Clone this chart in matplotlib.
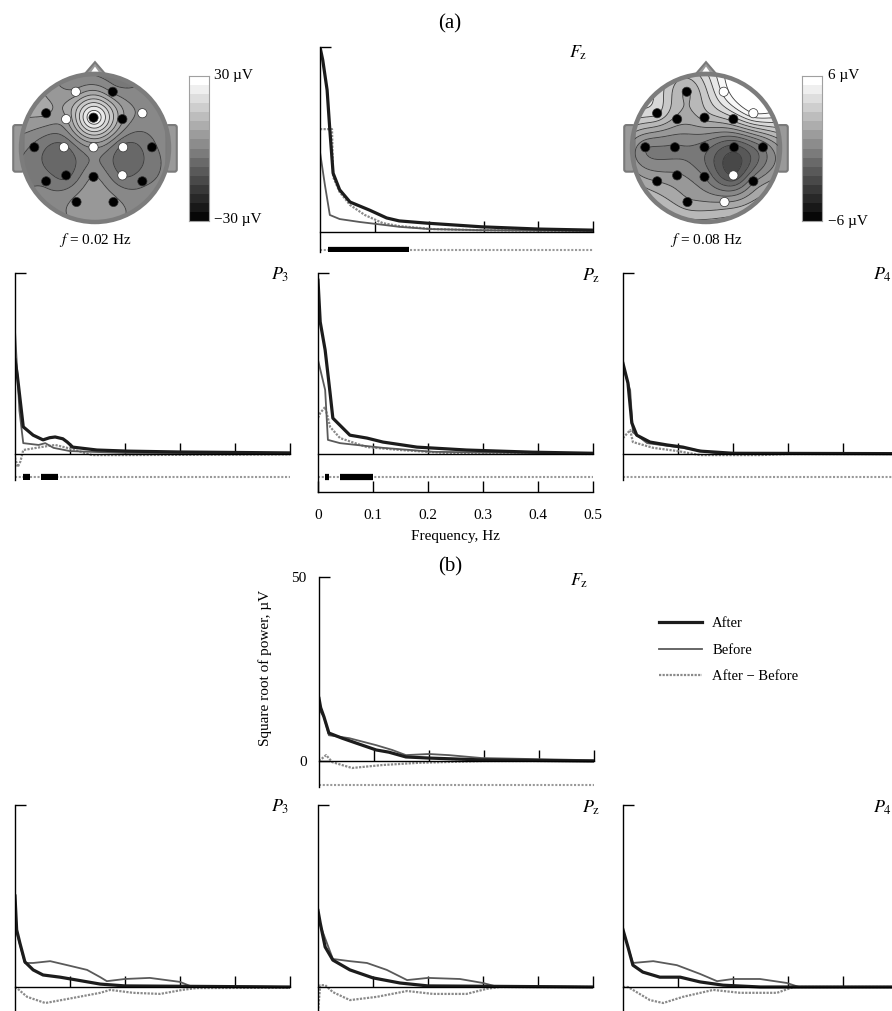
import numpy as np
import matplotlib
matplotlib.use("Agg")
import matplotlib.pyplot as plt
from matplotlib.patches import Circle, Polygon, FancyBboxPatch

plt.rcParams['font.family'] = ['Liberation Serif', 'DejaVu Serif']
plt.rcParams['mathtext.fontset'] = 'stix'

W, H = 892, 1011

# ---------------- spectra (Hz, uV) ----------------
# (a) Fz
aFz_after_f = [0, 0.005, 0.013, 0.018, 0.024, 0.036, 0.055, 0.091, 0.122, 0.145, 0.195, 0.296, 0.4, 0.5]
aFz_after_v = [50, 46.5, 38.4, 27.6, 15.9, 11.4, 8.1, 5.9, 3.8, 3.0, 2.4, 1.4, 0.8, 0.5]
aFz_before_f = [0, 0.009, 0.018, 0.036, 0.073, 0.118, 0.145, 0.2, 0.29, 0.5]
aFz_before_v = [21.6, 12.7, 4.6, 3.5, 2.7, 1.9, 1.4, 0.8, 0.5, 0.3]
aFz_diff_f = [0, 0.022, 0.024, 0.036, 0.055, 0.082, 0.115, 0.145, 0.205, 0.29, 0.5]
aFz_diff_v = [27.8, 27.8, 14.9, 10.8, 7.3, 4.6, 2.4, 1.6, 0.8, 0.5, 0.2]
aFz_bars = [(0.015, 0.163)]

# (a) P3
aP3_after_f = [0, 0.004, 0.015, 0.033, 0.051, 0.063, 0.073, 0.087, 0.095, 0.105, 0.149, 0.204, 0.3, 0.5]
aP3_after_v = [26, 22, 7.5, 5.2, 3.9, 4.5, 4.7, 4.2, 3.3, 1.9, 1.1, 0.8, 0.55, 0.3]
aP3_before_f = [0, 0.008, 0.015, 0.043, 0.055, 0.07, 0.1, 0.2, 0.5]
aP3_before_v = [34, 12, 3.0, 2.5, 3.0, 1.7, 0.8, 0.3, 0.2]
aP3_diff_f = [0, 0.005, 0.01, 0.015, 0.051, 0.073, 0.1, 0.14, 0.2, 0.5]
aP3_diff_v = [-1, -3.6, -2, 1.1, 2.0, 2.5, 1.5, -0.3, -0.3, -0.1]
aP3_bars = [(0.015, 0.027), (0.047, 0.078)]

# (a) Pz
aPz_after_f = [0, 0.004, 0.013, 0.022, 0.027, 0.058, 0.089, 0.118, 0.18, 0.27, 0.39, 0.5]
aPz_after_v = [48, 36.5, 28.7, 16.8, 9.9, 5.2, 4.4, 3.3, 1.9, 1.1, 0.5, 0.2]
aPz_before_f = [0, 0.013, 0.018, 0.04, 0.118, 0.21, 0.5]
aPz_before_v = [26, 17.7, 3.9, 3.0, 1.7, 0.6, 0.1]
aPz_diff_f = [0, 0.004, 0.013, 0.022, 0.04, 0.089, 0.149, 0.24, 0.5]
aPz_diff_v = [10, 11.3, 13, 7.5, 4.4, 1.9, 1.1, 0.2, 0]
aPz_bars = [(0.013, 0.02), (0.04, 0.1)]

# (a) P4
aP4_after_f = [0, 0.009, 0.016, 0.025, 0.049, 0.08, 0.109, 0.14, 0.2, 0.5]
aP4_after_v = [25, 19.6, 8.6, 5.2, 3.3, 2.5, 1.9, 0.8, 0.2, 0.1]
aP4_before_f = [0, 0.013, 0.018, 0.044, 0.109, 0.17, 0.5]
aP4_before_v = [24, 17.7, 6, 3, 1.7, 0.2, 0]
aP4_diff_f = [0, 0.013, 0.018, 0.055, 0.1, 0.14, 0.25, 0.3, 0.5]
aP4_diff_v = [4.4, 6.6, 3.3, 1.7, 0.8, -0.3, -0.3, 0, 0]
aP4_bars = []

# (b) Fz
bFz_after_f = [0, 0.003, 0.009, 0.018, 0.042, 0.067, 0.104, 0.127, 0.158, 0.2, 0.296, 0.5]
bFz_after_v = [17, 14.5, 12, 7.6, 6.2, 4.9, 3, 2.4, 1.1, 0.8, 0.3, 0]
bFz_before_f = [0, 0.009, 0.018, 0.055, 0.104, 0.133, 0.158, 0.2, 0.236, 0.296, 0.5]
bFz_before_v = [14, 12, 7, 6.2, 4.3, 3, 1.6, 1.9, 1.6, 0.8, 0.2]
bFz_diff_f = [0, 0.013, 0.024, 0.06, 0.115, 0.18, 0.3, 0.5]
bFz_diff_v = [0, 1.6, -0.3, -1.9, -1.1, -0.5, 0, 0]
bFz_bars = []

# (b) P3
bP3_after_f = [0, 0.003, 0.009, 0.018, 0.033, 0.051, 0.082, 0.113, 0.155, 0.2, 0.5]
bP3_after_v = [25, 15.7, 12, 6.9, 4.7, 3.3, 2.7, 1.9, 0.8, 0.3, 0]
bP3_before_f = [0, 0.003, 0.018, 0.033, 0.064, 0.095, 0.131, 0.155, 0.167, 0.2, 0.245, 0.3, 0.318, 0.5]
bP3_before_v = [25, 15, 6.6, 6.6, 7.1, 6, 4.7, 2.7, 1.6, 2.2, 2.5, 1.4, 0.3, 0]
bP3_diff_f = [0, 0.005, 0.022, 0.055, 0.095, 0.155, 0.173, 0.215, 0.264, 0.304, 0.33, 0.5]
bP3_diff_v = [0, -0.5, -2.7, -4.4, -3.3, -1.6, -0.8, -1.6, -1.9, -0.8, -0.3, -0.2]

# (b) Pz
bPz_after_f = [0, 0.004, 0.013, 0.027, 0.058, 0.1, 0.149, 0.2, 0.5]
bPz_after_v = [21, 17.6, 11, 7.4, 4.7, 2.5, 1.1, 0.3, 0]
bPz_before_f = [0, 0.004, 0.027, 0.058, 0.089, 0.125, 0.162, 0.2, 0.258, 0.3, 0.32, 0.5]
bPz_before_v = [21, 17, 7.7, 7.1, 6.6, 4.7, 1.9, 2.5, 2.2, 1.1, 0.3, 0]
bPz_diff_f = [0, 0.004, 0.013, 0.027, 0.058, 0.107, 0.162, 0.209, 0.27, 0.307, 0.33, 0.5]
bPz_diff_v = [-7, 0.5, 0.5, -1.4, -3.6, -2.7, -1.1, -1.9, -1.9, -0.5, 0, 0]

# (b) P4
bP4_after_f = [0, 0.009, 0.018, 0.036, 0.067, 0.104, 0.14, 0.182, 0.25, 0.5]
bP4_after_v = [15.7, 11, 6, 4.1, 2.7, 2.7, 1.4, 0.5, 0, 0]
bP4_before_f = [0, 0.009, 0.018, 0.055, 0.098, 0.14, 0.171, 0.2, 0.249, 0.298, 0.32, 0.5]
bP4_before_v = [15.7, 11, 6.6, 7.1, 6, 3.6, 1.6, 2.2, 2.2, 1.1, 0, 0]
bP4_diff_f = [0, 0.009, 0.018, 0.049, 0.073, 0.109, 0.164, 0.213, 0.28, 0.31, 0.5]
bP4_diff_v = [0, 0, -0.8, -3.6, -4.4, -2.7, -0.8, -1.6, -1.6, 0, 0]

# ---------------- topographic maps ----------------
elec_names = ['Fp1', 'Fp2', 'F7', 'F3', 'Fz', 'F4', 'F8', 'T3', 'C3', 'Cz', 'C4', 'T4',
              'T5', 'P3', 'Pz', 'P4', 'T6', 'O1', 'O2']
elec_x = [-0.26, 0.24, -0.66, -0.39, -0.02, 0.37, 0.64, -0.82, -0.42, -0.02, 0.38, 0.77,
          -0.66, -0.39, -0.02, 0.37, 0.64, -0.25, 0.25]
elec_y = [0.76, 0.76, 0.47, 0.39, 0.41, 0.39, 0.47, 0.01, 0.01, 0.01, 0.01, 0.01,
          -0.45, -0.37, -0.39, -0.37, -0.45, -0.73, -0.73]
map1_values = [5, 3, 8, 7, 30, 8, 3, -1, -5, 4, -5, -1, -1, -5, 4, -4, -1, 5, 5]
map1_white = [1, 0, 0, 1, 0, 0, 1, 0, 1, 1, 1, 0, 0, 0, 0, 1, 0, 0, 0]
map2_values = [2.2, 5.5, 3.9, 2, 2.5, 3.4, 6, 0.1, -0.1, -0.4, -1.8, 0, 1.5, 0.9, 0, -2.2, 0.6, 1.7, 1.5]
map2_white = [0, 1, 0, 0, 0, 0, 1, 0, 0, 0, 0, 0, 0, 0, 0, 1, 0, 0, 1]


def px_box(x0, x1, y0, y1):
    return [x0 / W, 1 - y1 / H, (x1 - x0) / W, (y1 - y0) / H]


def px(x, y):
    return (x / W, 1 - y / H)


fig = plt.figure(figsize=(W / 100, H / 100), dpi=100)

c_after, c_before, c_diff = '#1c1c1c', '#5a5a5a', '#8a8a8a'


def panel(x0, x1, ytop, yzero, ybot, after, before, diff, name, name_xy,
          sig=None, bars=(), freq_labels=False, ylabels=False):
    ax = fig.add_axes(px_box(x0, x1, ytop, ybot))
    ymin = -(ybot - yzero) / (yzero - ytop) * 50
    ax.set_xlim(0, 0.5)
    ax.set_ylim(ymin, 50)
    ax.patch.set_alpha(0)
    l3, = ax.plot(diff[0], diff[1], color=c_diff, lw=1.6, ls=(0, (1, 0.6)),
                  label='After \u2212 Before')
    l2, = ax.plot(before[0], before[1], color=c_before, lw=1.3, label='Before')
    l1, = ax.plot(after[0], after[1], color=c_after, lw=2.3, label='After')
    if sig is not None:
        ax.axhline(sig, color='#9a9a9a', lw=1.5, ls=(0, (1, 0.8)))
        for a, b in bars:
            ax.hlines(sig, a, b, color='black', lw=4.5)
    for s in ['top', 'right']:
        ax.spines[s].set_visible(False)
    ax.spines['bottom'].set_position(('data', 0))
    ax.spines['bottom'].set_linewidth(1.0)
    ax.spines['left'].set_linewidth(1.0)
    ax.set_xticks([0.1, 0.2, 0.3, 0.4, 0.5])
    ax.tick_params(axis='x', direction='in', length=8, width=1, labelbottom=False)
    if ylabels:
        ax.set_yticks([0, 50])
        ax.set_yticklabels(['0', '50'])
        ax.tick_params(axis='y', direction='in', length=8, width=1, labelsize=11, pad=9)
    else:
        ax.set_yticks([50])
        ax.tick_params(axis='y', direction='in', length=8, width=1, labelleft=False)
    if freq_labels:
        sec = ax.secondary_xaxis(0.0)
        sec.set_xticks([0, 0.1, 0.2, 0.3, 0.4, 0.5])
        sec.set_xticklabels(['0', '0.1', '0.2', '0.3', '0.4', '0.5'])
        sec.tick_params(direction='in', length=8, width=1, labelsize=11, pad=12)
        sec.spines['bottom'].set_linewidth(1.0)
        sec.set_xlabel('Frequency, Hz', fontsize=11, labelpad=6)
    fig.text(*px(*name_xy), name, fontsize=13, ha='center', va='center')
    return ax, (l1, l2, l3)


# (a) row 1
panel(320, 593, 47, 232, 252, (aFz_after_f, aFz_after_v), (aFz_before_f, aFz_before_v),
      (aFz_diff_f, aFz_diff_v), r'$F_{\mathrm{z}}$', (578, 53), sig=-4.9, bars=aFz_bars)
# (a) row 2
panel(15, 290, 273, 454, 480, (aP3_after_f, aP3_after_v), (aP3_before_f, aP3_before_v),
      (aP3_diff_f, aP3_diff_v), r'$P_3$', (280, 275), sig=-6.35, bars=aP3_bars)
panel(318, 593, 273, 454, 492, (aPz_after_f, aPz_after_v), (aPz_before_f, aPz_before_v),
      (aPz_diff_f, aPz_diff_v), r'$P_{\mathrm{z}}$', (591, 276), sig=-6.35, bars=aPz_bars,
      freq_labels=True)
panel(623, 898, 273, 454, 480, (aP4_after_f, aP4_after_v), (aP4_before_f, aP4_before_v),
      (aP4_diff_f, aP4_diff_v), r'$P_4$', (883, 275), sig=-6.4, bars=aP4_bars)
# (b) row 1
axb, handles = panel(319, 594, 577, 761, 787, (bFz_after_f, bFz_after_v),
                     (bFz_before_f, bFz_before_v), (bFz_diff_f, bFz_diff_v),
                     r'$F_{\mathrm{z}}$', (579, 581), sig=-6.5, bars=bFz_bars, ylabels=True)
fig.text(*px(265, 668), 'Square root of power, \u00b5V', rotation=90, fontsize=11,
         ha='center', va='center')
# (b) row 2
panel(15, 290, 805, 987, 1011, (bP3_after_f, bP3_after_v), (bP3_before_f, bP3_before_v),
      (bP3_diff_f, bP3_diff_v), r'$P_3$', (280, 807))
panel(318, 593, 805, 987, 1011, (bPz_after_f, bPz_after_v), (bPz_before_f, bPz_before_v),
      (bPz_diff_f, bPz_diff_v), r'$P_{\mathrm{z}}$', (591, 808))
panel(623, 898, 805, 987, 1011, (bP4_after_f, bP4_after_v), (bP4_before_f, bP4_before_v),
      (bP4_diff_f, bP4_diff_v), r'$P_4$', (883, 808))

fig.legend(handles, [h.get_label() for h in handles], loc='upper left',
           bbox_to_anchor=px(659, 617), frameon=False, fontsize=10.5,
           handlelength=2.95, handletextpad=0.7, labelspacing=0.92,
           borderpad=0, borderaxespad=0)

fig.text(*px(450, 24), '(a)', fontsize=15, ha='center', va='center')
fig.text(*px(450, 567), '(b)', fontsize=15, ha='center', va='center')


def biharmonic(xe, ye, v, XX, YY):
    xe, ye, v = np.asarray(xe), np.asarray(ye), np.asarray(v, float)
    d = np.hypot(xe[:, None] - xe[None, :], ye[:, None] - ye[None, :])
    G = np.where(d > 0, d ** 2 * (np.log(np.where(d > 0, d, 1)) - 1), 0)
    w = np.linalg.solve(G, v)
    dg = np.hypot(XX[..., None] - xe, YY[..., None] - ye)
    Gg = np.where(dg > 0, dg ** 2 * (np.log(np.where(dg > 0, dg, 1)) - 1), 0)
    return Gg @ w


def topomap(cx, cy, values, white, vmax, flabel, cbx):
    r_px = 74
    half = 100
    ax = fig.add_axes(px_box(cx - half, cx + half, cy - half, cy + half))
    lim = half / r_px
    ax.set_xlim(-lim, lim)
    ax.set_ylim(-lim, lim)
    ax.set_aspect('equal')
    ax.axis('off')
    g = np.linspace(-1, 1, 241)
    XX, YY = np.meshgrid(g, g)
    Z = biharmonic(elec_x, elec_y, values, XX, YY)
    Z = np.ma.masked_where(np.hypot(XX, YY) > 1.0, Z)
    levels = np.linspace(-vmax, vmax, 17)
    ax.contourf(XX, YY, Z, levels=levels, cmap='gray', extend='both')
    ax.contour(XX, YY, Z, levels=levels, colors='#3a3a3a', linewidths=0.6,
               negative_linestyles='solid')
    # ears and nose
    for sx in (-1, 1):
        ax.add_patch(FancyBboxPatch((sx * 1.035 - 0.07, -0.32), 0.14, 0.63,
                                    boxstyle='round,pad=0,rounding_size=0.03',
                                    fc='#9a9a9a', ec='#7a7a7a', lw=1.5, zorder=1))
    ax.add_patch(Polygon([(-0.15, 0.985), (0, 1.16), (0.15, 0.985)], closed=True,
                         fc='#9a9a9a', ec='#7a7a7a', lw=1.5, zorder=1))
    ax.add_patch(Polygon([(-0.05, 1.03), (0, 1.1), (0.05, 1.03)], closed=True,
                         fc='white', ec='none', zorder=1.1))
    ax.add_patch(Circle((0, 0), 1.0, fill=False, ec='#7c7c7c', lw=3.2, zorder=3))
    cols = ['white' if w else 'black' for w in white]
    ax.scatter(elec_x, elec_y, s=44, c=cols, edgecolors='#333333', linewidths=0.5, zorder=4)
    fig.text(*px(cx, 240), flabel, fontsize=11, ha='center', va='center')
    # colour bar
    cax = fig.add_axes(px_box(cbx, cbx + 20, 76, 221))
    cax.imshow(np.linspace(-vmax, vmax, 16).reshape(-1, 1), cmap='gray', origin='lower',
               aspect='auto', vmin=-vmax * 1.06, vmax=vmax)
    cax.set_xticks([])
    cax.set_yticks([])
    for s in cax.spines.values():
        s.set_color('#a0a0a0')
        s.set_linewidth(0.8)
    return ax


topomap(95, 148, map1_values, map1_white, 30, r'$f$ = 0.02 Hz', 189)
fig.text(*px(214, 75), '30 \u00b5V', fontsize=11, ha='left', va='center')
fig.text(*px(214, 219), '\u221230 \u00b5V', fontsize=11, ha='left', va='center')
topomap(706, 148, map2_values, map2_white, 6, r'$f$ = 0.08 Hz', 802)
fig.text(*px(828, 75), '6 \u00b5V', fontsize=11, ha='left', va='center')
fig.text(*px(828, 221), '\u22126 \u00b5V', fontsize=11, ha='left', va='center')

fig.savefig('out.png', dpi=100)
